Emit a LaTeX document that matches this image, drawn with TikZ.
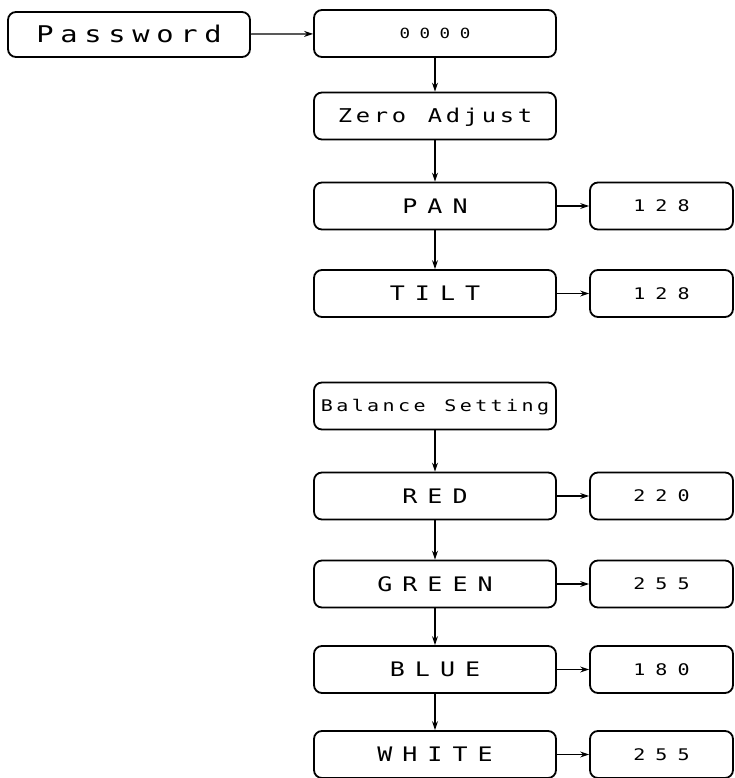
\documentclass[tikz,border=0pt]{standalone}
\usepackage{fontspec}
\usetikzlibrary{arrows.meta}
\newfontfamily\lcdfont[FakeStretch=1.25]{DejaVu Sans Mono}

% letter-spaced display text: #1 = font size, #2 = extra kern, #3 = text
\makeatletter
\newcommand\lcdtext[3]{{\lcdfont\fontsize{#1}{#1}\selectfont
  \def\lcd@sep{}\@tfor\lcd@c:=#3\do{\lcd@sep\lcd@c\def\lcd@sep{\kern#2}}}}
\makeatother

\tikzset{
  panel/.style={draw, line width=1.8pt, rounded corners=8pt, inner sep=0pt,
    minimum height=47pt, text height=14.6pt, text depth=0pt},
  mainpanel/.style={panel, minimum width=242pt},
  valpanel/.style={panel, minimum width=143pt, text height=11.7pt},
  flow/.style={line width=1.2pt, -{Stealth[length=9pt,width=6pt]}},
}

\begin{document}
\begin{tikzpicture}[x=1pt,y=-1pt]
  \useasboundingbox (0,0) rectangle (734,778);

  % menu entry
  \node[mainpanel, minimum height=45pt, text height=16.8pt] (pw) at (129,34.5)
    {\lcdtext{23pt}{6.7pt}{Password}};
  \node[mainpanel, text height=10.2pt] (code) at (435,33.5) {\lcdtext{14pt}{9.5pt}{0000}};

  % zero adjust branch
  \node[mainpanel, text height=13.9pt] (zero) at (435,116) {\lcdtext{19pt}{3.7pt}{Zero~Adjust}};
  \node[mainpanel] (pan)  at (435,206) {\lcdtext{20pt}{10pt}{PAN}};
  \node[mainpanel] (tilt) at (435,293.5) {\lcdtext{20pt}{10pt}{TILT}};
  \node[valpanel] (panv)  at (661.5,206) {\lcdtext{16pt}{10pt}{128}};
  \node[valpanel] (tiltv) at (661.5,293.5) {\lcdtext{16pt}{10pt}{128}};

  % balance branch
  \node[mainpanel, text height=11.7pt] (bal) at (435,406)
    {\lcdtext{16pt}{3.4pt}{Balance~Setting}};
  \node[mainpanel] (red)   at (435,496)   {\lcdtext{20pt}{10pt}{RED}};
  \node[mainpanel] (green) at (435,584)   {\lcdtext{20pt}{10pt}{GREEN}};
  \node[mainpanel] (blue)  at (435,669.5) {\lcdtext{20pt}{10pt}{BLUE}};
  \node[mainpanel] (white) at (435,754.5) {\lcdtext{20pt}{10pt}{WHITE}};
  \node[valpanel] (redv)   at (661.5,496)   {\lcdtext{16pt}{10pt}{220}};
  \node[valpanel] (greenv) at (661.5,584)   {\lcdtext{16pt}{10pt}{255}};
  \node[valpanel] (bluev)  at (661.5,669.5) {\lcdtext{16pt}{10pt}{180}};
  \node[valpanel] (whitev) at (661.5,754.5) {\lcdtext{16pt}{10pt}{255}};

  % connectors
  \draw[flow] (pw) -- (code);
  \draw[flow] (code) -- (zero);
  \draw[flow] (zero) -- (pan);
  \draw[flow] (pan) -- (tilt);
  \draw[flow] (pan) -- (panv);
  \draw[flow] (tilt) -- (tiltv);
  \draw[flow] (bal) -- (red);
  \draw[flow] (red) -- (green);
  \draw[flow] (green) -- (blue);
  \draw[flow] (blue) -- (white);
  \draw[flow] (red) -- (redv);
  \draw[flow] (green) -- (greenv);
  \draw[flow] (blue) -- (bluev);
  \draw[flow] (white) -- (whitev);
\end{tikzpicture}
\end{document}
